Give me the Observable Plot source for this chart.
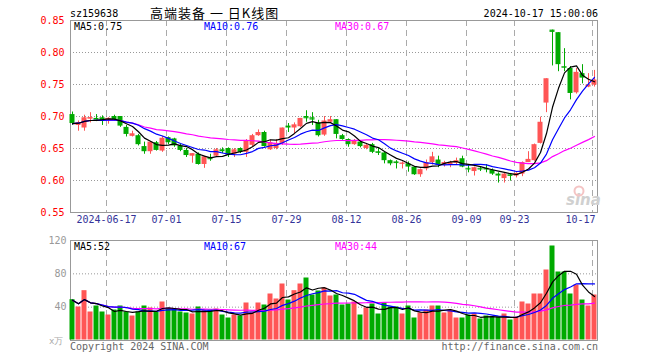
<!DOCTYPE html>
<html><head><meta charset="utf-8">
<script src="https://cdn.jsdelivr.net/npm/d3@7"></script>
<script src="https://cdn.jsdelivr.net/npm/@observablehq/plot@0.6"></script>
<style>
body{margin:0;background:#fff;}
#wrap{position:relative;width:660px;height:360px;overflow:hidden;background:#fff;}
#wrap svg{position:absolute;left:0;}
</style></head><body><div id="wrap"></div>
<script>
// ---- data ----
const opens  = [.703,.686,.682,.696,.697,.698,.695,.700,.700,.683,.669,.670,.653,.645,.659,.646,.667,.665,.654,.647,.638,.641,.625,.636,.638,.648,.650,.641,.650,.644,.655,.670,.675,.648,.650,.658,.685,.682,.684,.700,.698,.690,.671,.691,.695,.670,.664,.656,.660,.650,.656,.645,.643,.631,.629,.626,.626,.621,.609,.618,.628,.632,.624,.624,.627,.634,.619,.614,.619,.619,.616,.610,.603,.609,.607,.610,.628,.631,.658,.721,.835,.831,.778,.775,.737,.767,.746,.749];
const highs  = [.707,.693,.702,.706,.703,.701,.698,.702,.700,.686,.677,.672,.660,.661,.661,.669,.668,.666,.657,.650,.642,.643,.638,.641,.650,.651,.651,.650,.651,.664,.672,.679,.677,.663,.664,.682,.689,.690,.697,.709,.706,.694,.700,.700,.695,.672,.665,.664,.661,.656,.658,.650,.644,.632,.631,.629,.629,.621,.618,.632,.644,.638,.630,.630,.635,.638,.624,.621,.621,.625,.618,.612,.611,.611,.612,.629,.645,.657,.699,.759,.835,.831,.806,.778,.775,.781,.767,.772];
const lows   = [.686,.677,.677,.690,.692,.686,.688,.693,.683,.668,.668,.654,.641,.641,.646,.644,.656,.652,.645,.636,.627,.624,.619,.630,.636,.642,.636,.636,.642,.636,.652,.669,.652,.647,.648,.655,.675,.673,.683,.691,.686,.668,.669,.690,.665,.663,.652,.655,.651,.648,.642,.639,.626,.623,.618,.618,.613,.608,.605,.615,.624,.620,.621,.620,.624,.620,.612,.607,.614,.612,.608,.596,.596,.599,.604,.606,.628,.630,.657,.706,.779,.770,.770,.726,.735,.751,.745,.746];
const closes = [.689,.690,.698,.698,.695,.694,.697,.695,.685,.672,.673,.656,.645,.660,.647,.666,.659,.654,.647,.639,.642,.625,.637,.634,.648,.645,.640,.648,.644,.661,.670,.675,.653,.659,.658,.682,.682,.687,.697,.698,.696,.670,.693,.695,.672,.664,.656,.661,.653,.655,.644,.644,.631,.626,.628,.627,.621,.609,.617,.628,.637,.624,.628,.628,.631,.621,.618,.620,.618,.618,.610,.607,.610,.608,.611,.628,.633,.656,.691,.759,.833,.781,.777,.736,.769,.760,.749,.757];
const volumes = [48.4,39.6,59.2,33.6,40.8,33.6,30,36,40.8,33.6,28.8,33.6,40.8,38.4,33.6,45.6,37.2,37.2,33.6,32.4,31.2,39.6,36,36,37.2,30,26.4,30,28.8,44.4,33.6,44.4,42,55.2,49.2,67.2,48,59.2,67.2,74.4,54,58.8,62.4,52.8,54,42,43.2,45.6,30,38.4,43.2,31.2,44.4,39.6,39.6,31.2,40.8,26.4,32.4,36,40.8,40.8,32.4,36,26.4,26.4,30,31.2,25.2,28.8,27.6,27.6,31.2,24,27.6,45.6,43.2,55.2,55.2,84,112.8,81.6,81.6,55.2,66,48,40.8,54];
const dateTickIdx   = [6,16,26,36,46,56,66,74,87];
const dateTickLabel = ["2024-06-17","07-01","07-15","07-29","08-12","08-26","09-09","09-23","10-17"];
const priceTicks = [0.55,0.60,0.65,0.70,0.75,0.80,0.85];
const priceGrid  = [0.60,0.65,0.70,0.75,0.80];
const volTicks = [40,80,120];
const volGrid  = [40,80];
const priceLegend = ["MA5:0.75","MA10:0.76","MA30:0.67"];
const volLegend   = ["MA5:52","MA10:67","MA30:44"];
const code = "sz159638";
const titleCN = "高端装备 一 日K线图";
const stamp = "2024-10-17 15:00:06";

// ---- styles ----
const RED = "#ff5555", GREEN = "#00aa00";
const MA_COL = ["#000000","#0000ff","#ff00ff"];
const FONT = "'DejaVu Sans Mono', monospace";

const N = closes.length;
const ma = (arr, n) => arr.map((_, i) => d3.mean(arr.slice(Math.max(0, i - n + 1), i + 1)));
const c5 = ma(closes,5), c10 = ma(closes,10), c30 = ma(closes,30);
const v5 = ma(volumes,5), v10 = ma(volumes,10), v30 = ma(volumes,30);
const rows = d3.range(N).map(i => ({i, o: opens[i], h: highs[i], l: lows[i], c: closes[i], v: volumes[i],
  m5: c5[i], m10: c10[i], m30: c30[i], vm5: v5[i], vm10: v10[i], vm30: v30[i]}));
const col = d => d.c >= d.o ? RED : GREEN;
const ticks = dateTickIdx.map((i, k) => ({i, label: dateTickLabel[k]}));
const bodyX2 = d => d.i + 5/6;
const mid = d => d.i + 2/6;

const main = Plot.plot({
  width: 660, height: 230,
  marginLeft: 70, marginRight: 63, marginTop: 20, marginBottom: 18,
  x: {domain: [0, N], range: [70, 598], axis: null},
  y: {domain: [0.55, 0.85], range: [212, 20], axis: null},
  style: {fontFamily: FONT, fontSize: "10px", background: "transparent", overflow: "visible"},
  marks: [
    Plot.ruleY(priceGrid, {stroke: "#999", strokeDasharray: "1,2"}),
    Plot.ruleX(dateTickIdx, {stroke: "#aaa", strokeDasharray: "6,4"}),
    Plot.frame({stroke: "#999"}),
    Plot.ruleX(rows, {x: mid, y1: "l", y2: "h", stroke: col}),
    Plot.rect(rows, {x1: "i", x2: bodyX2, y1: "o", y2: "c", fill: col, dx: -0.5}),
    Plot.ruleY(rows.filter(d => Math.abs(d.c - d.o) < 0.0025), {x1: "i", x2: bodyX2, y: "c", stroke: col, dx: -0.5}),
    Plot.line(rows, {x: mid, y: "m30", stroke: MA_COL[2], strokeWidth: 1.2}),
    Plot.line(rows, {x: mid, y: "m10", stroke: MA_COL[1], strokeWidth: 1.2}),
    Plot.line(rows, {x: mid, y: "m5", stroke: MA_COL[0], strokeWidth: 1.2}),
    Plot.text(priceTicks, {y: d => d, text: d => d.toFixed(2), frameAnchor: "left", textAnchor: "end", dx: -6, fill: "#ff0000"}),
    Plot.text(ticks.slice(0, -1), {x: "i", text: "label", frameAnchor: "bottom", dy: 10, fill: "#333399"}),
    Plot.text(ticks.slice(-1), {x: "i", text: "label", frameAnchor: "bottom", dy: 10, textAnchor: "end", dx: 3, fill: "#333399"})
  ]
});

const vol = Plot.plot({
  width: 660, height: 130,
  marginLeft: 70, marginRight: 63, marginTop: 10, marginBottom: 20,
  x: {domain: [0, N], range: [70, 598], axis: null},
  y: {domain: [0, 120], range: [110, 10], axis: null},
  style: {fontFamily: FONT, fontSize: "10px", background: "transparent", overflow: "visible"},
  marks: [
    Plot.ruleY(volGrid, {stroke: "#999", strokeDasharray: "1,2"}),
    Plot.ruleX(dateTickIdx, {stroke: "#aaa", strokeDasharray: "6,4"}),
    Plot.frame({stroke: "#999"}),
    Plot.rect(rows, {x1: "i", x2: bodyX2, y1: 0, y2: "v", fill: col, dx: -0.5, dy: -0.5}),
    Plot.line(rows, {x: mid, y: "vm30", stroke: MA_COL[2], strokeWidth: 1.2}),
    Plot.line(rows, {x: mid, y: "vm10", stroke: MA_COL[1], strokeWidth: 1.2}),
    Plot.line(rows, {x: mid, y: "vm5", stroke: MA_COL[0], strokeWidth: 1.2}),
    Plot.text(volTicks, {y: d => d, text: d => String(d), frameAnchor: "left", textAnchor: "end", dx: -4, fill: "#999"})
  ]
});

const wrap = document.getElementById("wrap");
main.style.top = "0px";
vol.style.top = "230px";
wrap.appendChild(main);
wrap.appendChild(vol);

// ---- overlay texts (titles, legends, credits) ----
const ov = d3.select(wrap).append("svg").attr("width", 660).attr("height", 360)
  .style("top", "0px").style("font-family", FONT).style("font-size", "10px");
const txt = (x, y, s, fill, anchor = "start", extra = {}) => {
  const t = ov.append("text").attr("x", x).attr("y", y).attr("fill", fill).attr("text-anchor", anchor).text(s);
  for (const k in extra) t.style(k, extra[k]);
  return t;
};
txt(70, 16.5, code, "#000");
txt(150, 17.5, titleCN, "#000", "start", {"font-family": "'Noto Sans CJK SC', sans-serif", "font-size": "13px", "letter-spacing": "1px"});
txt(598, 16.5, stamp, "#000", "end");
const legX = [74, 204, 335];
priceLegend.forEach((s, k) => txt(legX[k], 29.5, s, MA_COL[k]));
volLegend.forEach((s, k) => txt(legX[k], 250, s, MA_COL[k]));
txt(49, 344, "x万", "#aaa", "start", {"font-size": "9px"});
txt(70, 349.5, "Copyright 2024 SINA.COM", "#666");
txt(598, 349.5, "http://finance.sina.com.cn", "#666", "end");
// faint watermark
txt(566, 205, "sina", "#d0d0d0", "start", {"font-family": "'DejaVu Sans', sans-serif", "font-size": "15px", "font-weight": "bold", "font-style": "italic"});
ov.append("circle").attr("cx", 579).attr("cy", 191).attr("r", 4.5).attr("fill", "none").attr("stroke", "#f4c4c4").attr("stroke-width", 2);
</script></body></html>
